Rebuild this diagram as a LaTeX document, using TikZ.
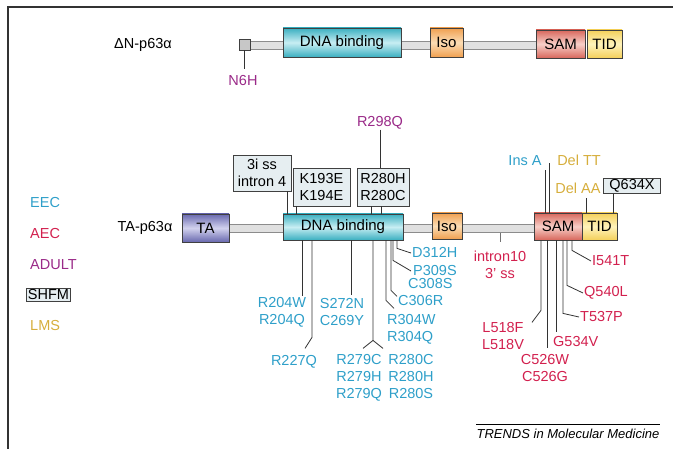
\documentclass[tikz,border=0pt]{standalone}
\usepackage{fontspec}
\setmainfont{Liberation Sans}
\usetikzlibrary{calc}
\definecolor{eec}{HTML}{2E9FC9}
\definecolor{aec}{HTML}{D2204E}
\definecolor{adult}{HTML}{9A2A88}
\definecolor{lms}{HTML}{D6AE3C}
\definecolor{shfmfill}{HTML}{E6EEF1}
\definecolor{dnaE}{HTML}{3AAFC0}
\definecolor{dnaM}{HTML}{C8EEF3}
\definecolor{isoE}{HTML}{F0A050}
\definecolor{isoM}{HTML}{FBDDB5}
\definecolor{samE}{HTML}{D8675C}
\definecolor{samM}{HTML}{F7CFC8}
\definecolor{tidE}{HTML}{F4D05A}
\definecolor{tidM}{HTML}{FFF3BC}
\definecolor{taE}{HTML}{6868AE}
\definecolor{taM}{HTML}{D2D2EE}
\begin{document}
\begin{tikzpicture}[x=1pt,y=-1pt,
  lbl/.style={inner sep=0pt, font=\fontsize{14.5}{17}\selectfont, align=center},
  dom/.style={draw=black!75, line width=0.8pt, inner sep=0pt, font=\fontsize{15}{17}\selectfont},
  dnabox/.style={dom, top color=dnaE, bottom color=dnaE, middle color=dnaM},
  isobox/.style={dom, top color=isoE, bottom color=isoE, middle color=isoM},
  sambox/.style={dom, top color=samE, bottom color=samE, middle color=samM},
  tidbox/.style={dom, top color=tidE, bottom color=tidE, middle color=tidM},
  tabox/.style={dom, top color=taE, bottom color=taE, middle color=taM},
  shfm/.style={lbl, draw=black!75, line width=0.9pt, fill=shfmfill, inner sep=1.5pt},
  mut/.style={draw=black!80, line width=0.8pt},
  bb/.style={draw=black!45, fill=black!12, line width=0.5pt}]
\useasboundingbox (0,0) rectangle (673,449);
% frame
\draw[line width=1.3pt, black!80] (673,7) -- (8,7) -- (8,449);

% legend
\node[lbl, text=eec, anchor=west] (lgEEC) at (30,203) {EEC};
\node[lbl, text=aec, anchor=west] (lgAEC) at (30,234) {AEC};
\node[lbl, text=adult, anchor=west] (lgADULT) at (30,265) {ADULT};
\node[shfm, anchor=west] (lgSHFM) at (26,295) {SHFM};
\node[lbl, text=lms, anchor=west] (lgLMS) at (30,326) {LMS};

% ---- DeltaN-p63alpha ----
\node[lbl] (dNlabel) at (143,45) {ΔN-p63α};
\draw[bb] (250,41) rectangle (536,49);
\node[dom, fill=black!22, minimum width=11pt, minimum height=11pt] (sq) at (244.5,44.5) {};
\node[dnabox, minimum width=118pt, minimum height=29pt] (dnaT) at (342,42.5) {DNA binding};
\node[isobox, minimum width=33pt, minimum height=29pt] (isoT) at (446.5,42.5) {Iso};
\node[sambox, minimum width=49pt, minimum height=28pt] (samT) at (560.5,44) {SAM};
\node[tidbox, minimum width=35pt, minimum height=28pt] (tidT) at (604.5,44) {TID};
\node[lbl, text=adult, anchor=north] (n6h) at (243,75) {N6H};
\draw[mut, shorten >=6pt] (sq.south) -- (sq.south |- n6h.north);

% ---- TA-p63alpha ----
\node[lbl] (taLabel) at (145,228) {TA-p63α};
\draw[bb] (229,224) rectangle (534,232);
\node[tabox, minimum width=47pt, minimum height=28pt] (ta) at (205.5,228) {TA};
\node[dnabox, minimum width=120pt, minimum height=26pt] (dnaB) at (343,227) {DNA binding};
\node[isobox, minimum width=30pt, minimum height=26pt] (isoB) at (447,226) {Iso};
\node[sambox, minimum width=48pt, minimum height=27pt] (samB) at (558,226.5) {SAM};
\node[tidbox, minimum width=35pt, minimum height=27pt] (tidB) at (599.5,226.5) {TID};

% above DNA binding
\node[shfm, minimum width=58pt, minimum height=36pt] (ss3i) at (262,173) {3i ss\\intron 4};
\node[shfm, minimum width=57pt, minimum height=38pt] (kbox) at (321.5,187) {K193E\\K194E};
\node[shfm, minimum width=52pt, minimum height=38pt] (rbox) at (383,187) {R280H\\R280C};
\node[lbl, text=adult] (r298q) at (380,123) {R298Q};
\draw[mut] (r298q.south) -- (r298q.south |- rbox.north);
\draw[mut] (ss3i.south -| 287,0) -- (dnaB.north -| 287,0);
\draw[mut] (kbox.south -| 296,0) -- (dnaB.north -| 296,0);
\draw[mut] (rbox.south -| 371,0) -- (dnaB.north -| 371,0);
\draw[mut] (rbox.south -| 381,0) -- (dnaB.north -| 381,0);

% above SAM / TID
\node[lbl, text=eec] (insA) at (525,161) {Ins A};
\node[lbl, text=lms] (delTT) at (579,160) {Del TT};
\draw[mut] (samB.north -| 545,0) -- ++(0,-43);
\draw[mut] (samB.north -| 549,0) -- ++(0,-50);
\node[lbl, text=lms] (delAA) at (578,188) {Del AA};
\draw[mut] (tidB.north -| 586,0) -- ++(0,-15);
\node[shfm, inner sep=1pt, minimum width=57pt, minimum height=15pt] (q634x) at (632,186) {Q634X};
\draw[mut] (q634x.south -| 613,0) -- (tidB.north -| 613,0);

% below DNA binding
\node[lbl, text=eec, anchor=west] (d312h) at (412,253) {D312H};
\draw[mut] (dnaB.south -| 397,0) -- ++(0,8) -- ([xshift=-1pt]d312h.west);
\node[lbl, text=eec, anchor=west] (p309s) at (413,271) {P309S};
\node[lbl, text=eec, anchor=west] (c308s) at (408,284) {C308S};
\draw[mut] (dnaB.south -| 393,0) -- ++(0,20) -- ([xshift=-2pt]p309s.west);
\node[lbl, text=eec, anchor=west] (c306r) at (398,301) {C306R};
\draw[mut] (dnaB.south -| 391,0) -- ++(0,50) -- ++(6,6);
\node[lbl, text=eec, anchor=north west, align=left] (r304) at (387,314) {R304W\\R304Q};
\draw[mut] (dnaB.south -| 386,0) -- ++(0,60) -- ++(8,8);
\node[lbl, text=eec, anchor=north] (r279) at (359,354) {R279C\\R279H\\R279Q};
\node[lbl, text=eec, anchor=north] (r280) at (411,354) {R280C\\R280H\\R280S};
\draw[mut] (dnaB.south -| 373,0) -- ++(0,100) coordinate (fork) -- ++(-10,8);
\draw[mut] (fork) -- ++(10,8);
\node[lbl, text=eec, anchor=north] (s272n) at (342,298) {S272N\\C269Y};
\draw[mut] (dnaB.south -| 351,0) -- ++(0,55);
\node[lbl, text=eec, anchor=north] (r204) at (282,297) {R204W\\R204Q};
\draw[mut] (dnaB.south -| 302,0) -- ++(0,56);
\node[lbl, text=eec] (r227q) at (294,362) {R227Q};
\draw[mut] (dnaB.south -| 312,0) -- ++(0,97) -- ++(-7,11);

% intron 10
\node[lbl, text=aec, anchor=north] (intron) at (500,251) {intron10\\3’ ss};
\draw[mut, black!55] ([yshift=9pt]intron.north) -- ++(0,-9);

% below SAM
\node[lbl, text=aec, anchor=west] (i541t) at (592,261) {I541T};
\draw[mut] (samB.south -| 572,0) -- ++(0,10) -- ([xshift=-1pt]i541t.west);
\node[lbl, text=aec, anchor=west] (q540l) at (584,293) {Q540L};
\draw[mut] (samB.south -| 567,0) -- ++(0,45) -- ([xshift=-1pt]q540l.west);
\node[lbl, text=aec, anchor=west] (t537p) at (580,317) {T537P};
\draw[mut] (samB.south -| 563,0) -- ++(0,73) -- ([xshift=-1pt]t537p.west);
\node[lbl, text=aec, anchor=north west] (g534v) at (553,336) {G534V};
\draw[mut] (samB.south -| 556,0) -- ++(0,92);
\node[lbl, text=aec, anchor=north] (c526) at (545,354) {C526W\\C526G};
\draw[mut] (samB.south -| 547,0) -- ++(0,108);
\node[lbl, text=aec, anchor=north] (l518) at (503,322) {L518F\\L518V};
\draw[mut] (samB.south -| 541,0) -- ++(0,70) -- ++(-9,12);

% credit
\node[inner sep=0pt, font=\fontsize{13}{15}\selectfont\itshape] (trends) at (568,434) {TRENDS in Molecular Medicine};
\draw[line width=0.8pt] ([yshift=5pt]trends.north west) -- ([yshift=5pt]trends.north east);
\end{tikzpicture}
\end{document}
